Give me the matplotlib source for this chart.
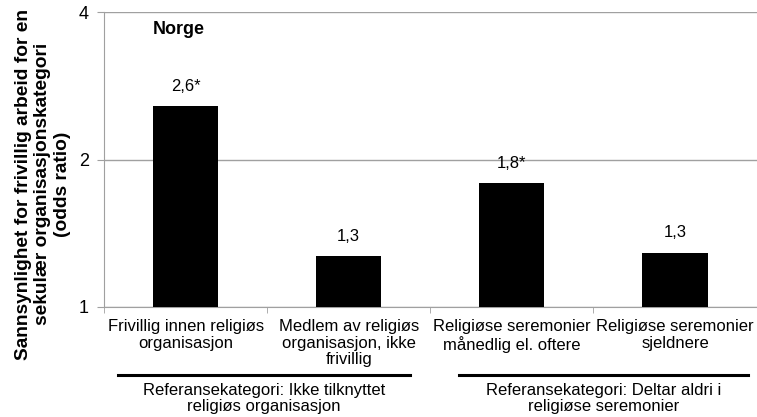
import numpy as np
import matplotlib
matplotlib.use("Agg")
import matplotlib.pyplot as plt
from matplotlib.lines import Line2D

plt.rcParams['font.family'] = ['Liberation Sans', 'DejaVu Sans']

# data
categories = ['Frivillig innen religiøs\norganisasjon',
              'Medlem av religiøs\norganisasjon, ikke\nfrivillig',
              'Religiøse seremonier\nmånedlig el. oftere',
              'Religiøse seremonier\nsjeldnere']
odds_ratio = [2.57, 1.27, 1.79, 1.29]
bar_labels = ['2,6*', '1,3', '1,8*', '1,3']
groups = ['Referansekategori: Ikke tilknyttet\nreligiøs organisasjon',
          'Referansekategori: Deltar aldri i\nreligiøse seremonier']
y_ticks = [1, 2, 4]

fig = plt.figure(figsize=(7.57, 4.17), dpi=100)
ax = fig.add_axes([0.1374, 0.2638, 0.862, 0.7074])

x = np.arange(len(categories))
ax.bar(x, np.array(odds_ratio) - 1, bottom=1, width=0.4, color='black', zorder=3)

for xi, v, lab in zip(x, odds_ratio, bar_labels):
    ax.annotate(lab, (xi, v), xytext=(0, 9), textcoords='offset points',
                ha='center', va='bottom', fontsize=12)

ax.set_yscale('log')
ax.set_ylim(1, 4)
ax.set_yticks(y_ticks)
ax.set_yticklabels([str(t) for t in y_ticks], fontsize=13)
ax.yaxis.set_minor_locator(matplotlib.ticker.NullLocator())
ax.set_xlim(-0.5, 3.5)
ax.set_xticks(x)
ax.set_xticklabels(categories, fontsize=12, linespacing=1.1)
ax.tick_params(axis='x', length=0, pad=9)
ax.set_xticks(np.arange(-0.5, 3.6, 1), minor=True)
ax.tick_params(axis='x', which='minor', length=4, color='#a0a0a0')
ax.tick_params(axis='y', length=5, color='#a0a0a0', pad=6)

ax.grid(axis='y', color='#a0a0a0', linewidth=1, zorder=0)
for s in ['top', 'right']:
    ax.spines[s].set_visible(False)
for s in ['left', 'bottom']:
    ax.spines[s].set_color('#a0a0a0')

ax.text(0.075, 0.942, 'Norge', transform=ax.transAxes, fontsize=13,
        fontweight='bold', ha='left', va='center')

# group brackets under the tick labels
trans = ax.get_xaxis_transform()
spans = [(-0.414, 1.374), (1.675, 3.45)]
for (x0, x1), g in zip(spans, groups):
    ax.add_line(Line2D([x0, x1], [-0.23, -0.23], transform=trans, color='black',
                       linewidth=2.2, clip_on=False))
    ax.text((x0 + x1) / 2, -0.31, g, transform=trans, ha='center', va='center',
            fontsize=12, linespacing=1.05)

fig.text(43 / 757, 1 - 184 / 417,
         'Sannsynlighet for frivillig arbeid for en\nsekulær organisasjonskategori\n(odds ratio)',
         rotation=90, ha='center', va='center', fontsize=13.8, fontweight='bold',
         linespacing=1.2)

fig.savefig('out.png', dpi=100)
